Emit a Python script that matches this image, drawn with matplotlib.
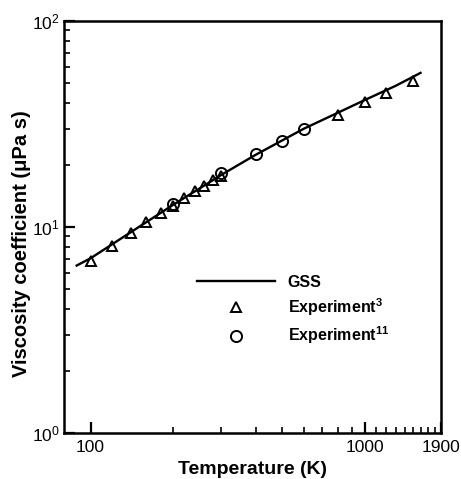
import matplotlib
matplotlib.use("Agg")
import matplotlib.pyplot as plt
from matplotlib.ticker import FixedLocator, NullFormatter, FixedFormatter, LogLocator

plt.rcParams['font.family'] = ['Liberation Sans', 'DejaVu Sans']
plt.rcParams['mathtext.fontset'] = 'custom'
plt.rcParams['mathtext.rm'] = 'Liberation Sans'
plt.rcParams['mathtext.bf'] = 'Liberation Sans:bold'
plt.rcParams['mathtext.it'] = 'Liberation Sans:italic'

# GSS simulation curve
gss_T = [89, 100, 150, 200, 300, 400, 600, 800, 1000, 1300, 1600]
gss_mu = [6.5, 7.05, 10.0, 12.8, 17.9, 22.4, 30.0, 35.9, 41.3, 48.5, 56.0]

# Experiment (ref 3) - triangles
exp3_T = [100, 120, 140, 160, 180, 200, 220, 240, 260, 280, 300, 800, 1000, 1200, 1500]
exp3_mu = [6.86, 8.1, 9.32, 10.54, 11.66, 12.65, 13.9, 15.0, 15.9, 16.9, 17.7, 35.0, 40.3, 44.6, 51.1]

# Experiment (ref 11) - circles
exp11_T = [200, 300, 400, 500, 600]
exp11_mu = [13.0, 18.3, 22.5, 26.2, 29.9]

fig = plt.figure(figsize=(4.61, 4.79), dpi=100)
ax = fig.add_axes([64/461, 1-433/479, (441-64)/461, (433-21)/479])

ax.plot(gss_T, gss_mu, color='black', lw=1.7, label='GSS')
ax.plot(exp3_T, exp3_mu, ls='none', marker='^', ms=7.5, mfc='none', mec='black', mew=1.4,
        label=r'Experiment$^{\mathbf{3}}$')
ax.plot(exp11_T, exp11_mu, ls='none', marker='o', ms=8, mfc='none', mec='black', mew=1.4,
        label=r'Experiment$^{\mathbf{11}}$')

ax.set_xscale('log')
ax.set_yscale('log')
ax.set_xlim(80, 1900)
ax.set_ylim(1, 100)

xmaj = [100, 1000, 1900]
ax.xaxis.set_major_locator(FixedLocator(xmaj))
ax.xaxis.set_major_formatter(FixedFormatter(['100', '1000', '1900']))
xmin = [200, 300, 400, 500, 600, 700, 800, 900, 1100, 1200, 1300, 1400, 1500, 1600, 1700, 1800]
ax.xaxis.set_minor_locator(FixedLocator(xmin))
ax.xaxis.set_minor_formatter(NullFormatter())

ax.yaxis.set_major_locator(FixedLocator([1, 10, 100]))
ax.yaxis.set_major_formatter(FixedFormatter([r'$10^0$', r'$10^1$', r'$10^2$']))
ax.yaxis.set_minor_locator(LogLocator(base=10, subs=range(2, 10)))
ax.yaxis.set_minor_formatter(NullFormatter())

ax.tick_params(which='both', direction='in', top=False, right=False, labelsize=12.5, width=1.2)
ax.tick_params(which='major', length=8, width=1.6)
ax.tick_params(which='minor', length=4)
ax.tick_params(axis='x', pad=5)
ax.tick_params(axis='y', pad=3)
for s in ax.spines.values():
    s.set_linewidth(1.8)

ax.set_xlabel('Temperature (K)', fontsize=14, fontweight='bold', labelpad=4)
ax.set_ylabel('Viscosity coefficient (μPa s)', fontsize=14.5, fontweight='bold')
ax.yaxis.set_label_coords(-0.088, 0.46)

leg = ax.legend(loc='upper left', bbox_to_anchor=(0.335, 0.40), frameon=False,
                prop={'weight': 'bold', 'size': 11.5}, handlelength=4.9,
                handletextpad=0.8, labelspacing=0.42, borderaxespad=0)

fig.savefig('out.png', dpi=100)
